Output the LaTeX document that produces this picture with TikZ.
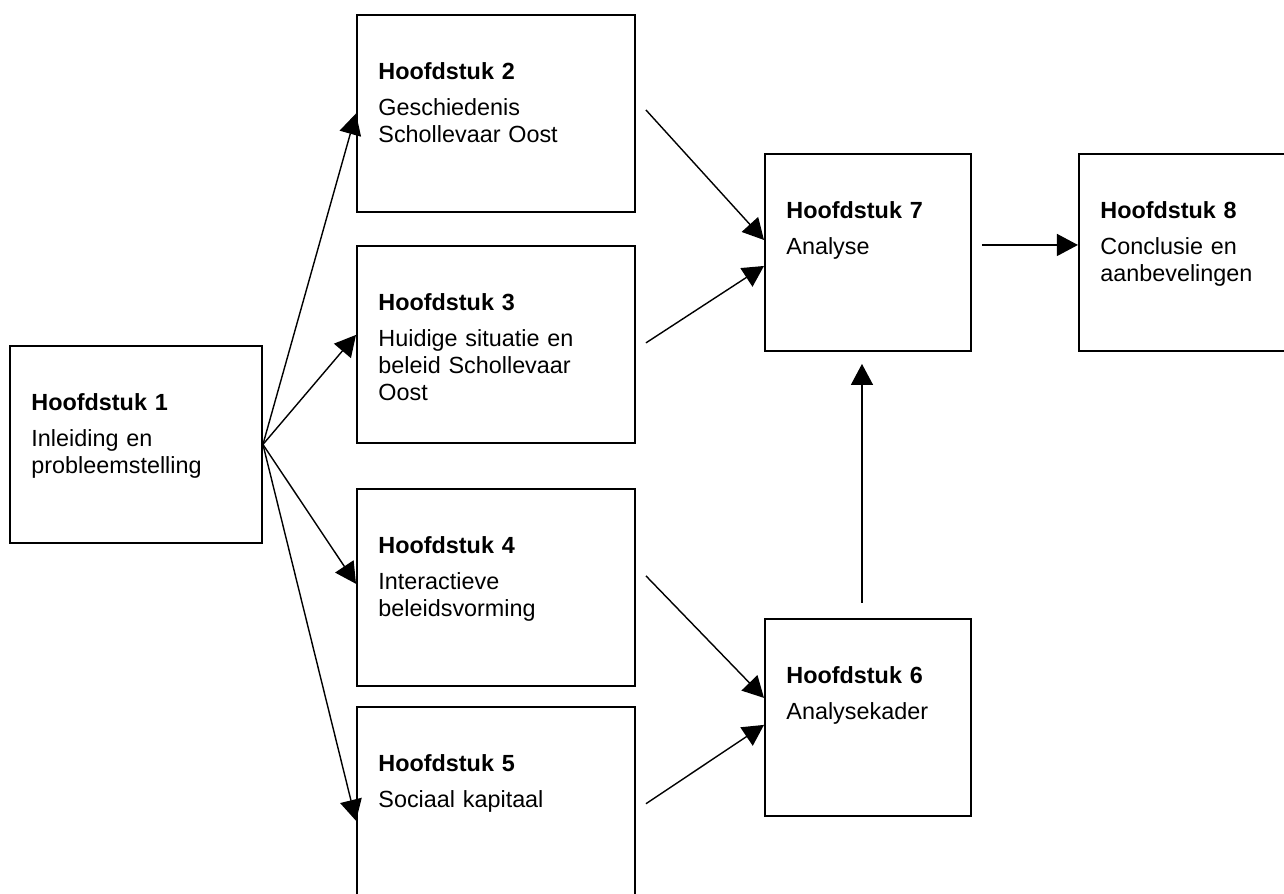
\documentclass[tikz,border=0pt]{standalone}
\usepackage{fontspec}
\setmainfont{Liberation Sans}
\usetikzlibrary{positioning,arrows.meta}

\begin{document}
\begin{tikzpicture}[
    chapter/.style = {draw, rectangle, line width=1.1pt, anchor=north west, align=left,
        inner xsep=0.43cm, inner ysep=0pt, text height=1.3cm, text depth=2.64cm,
        font=\fontsize{13.3}{15.2}\selectfont},
    first/.style = {chapter, text width=4.18cm},
    wide/.style = {chapter, text width=4.7cm},
    narrow/.style = {chapter, text width=3.26cm},
    link/.style = {line width=0.8pt, -{Triangle[length=0.42cm,width=0.44cm]}}
    ]
    \useasboundingbox (0,0) rectangle (25.68,-17.86);

    \node[first] (h1) at (0.18,-6.9) {\textbf{Hoofdstuk 1}\\[5.3pt]Inleiding en\\probleemstelling};
    \node[wide] (h2) at (7.12,-0.28) {\textbf{Hoofdstuk 2}\\[5.3pt]Geschiedenis\\Schollevaar Oost};
    \node[wide, below=0.64cm of h2] (h3) {\textbf{Hoofdstuk 3}\\[5.3pt]Huidige situatie en\\beleid Schollevaar\\Oost};
    \node[wide, below=0.88cm of h3] (h4) {\textbf{Hoofdstuk 4}\\[5.3pt]Interactieve\\beleidsvorming};
    \node[wide, below=0.38cm of h4] (h5) {\textbf{Hoofdstuk 5}\\[5.3pt]Sociaal kapitaal};
    \node[narrow] (h7) at (15.28,-3.06) {\textbf{Hoofdstuk 7}\\[5.3pt]Analyse};
    \node[narrow, below=5.32cm of h7] (h6) {\textbf{Hoofdstuk 6}\\[5.3pt]Analysekader};
    \node[narrow, right=2.12cm of h7] (h8) {\textbf{Hoofdstuk 8}\\[5.3pt]Conclusie en\\aanbevelingen};

    \draw[link] (h1.east) -- (h2.west);
    \draw[link] (h1.east) -- ([yshift=0.19cm]h3.west);
    \draw[link] (h1.east) -- ([yshift=0.07cm]h4.west);
    \draw[link] (h1.east) -- ([yshift=-0.31cm]h5.west);
    \draw[link] ([xshift=0.2cm,yshift=0.07cm]h2.east) -- ([yshift=0.25cm]h7.west);
    \draw[link] ([xshift=0.2cm,yshift=0.03cm]h3.east) -- ([yshift=-0.27cm]h7.west);
    \draw[link] ([xshift=0.2cm,yshift=0.23cm]h4.east) -- ([yshift=0.39cm]h6.west);
    \draw[link] ([xshift=0.2cm,yshift=0.03cm]h5.east) -- ([yshift=-0.15cm]h6.west);
    \draw[link] ([xshift=-0.12cm,yshift=0.3cm]h6.north) -- ([xshift=-0.12cm,yshift=-0.24cm]h7.south);
    \draw[link] ([xshift=0.2cm,yshift=0.15cm]h7.east) -- ([yshift=0.15cm]h8.west);
\end{tikzpicture}
\end{document}
